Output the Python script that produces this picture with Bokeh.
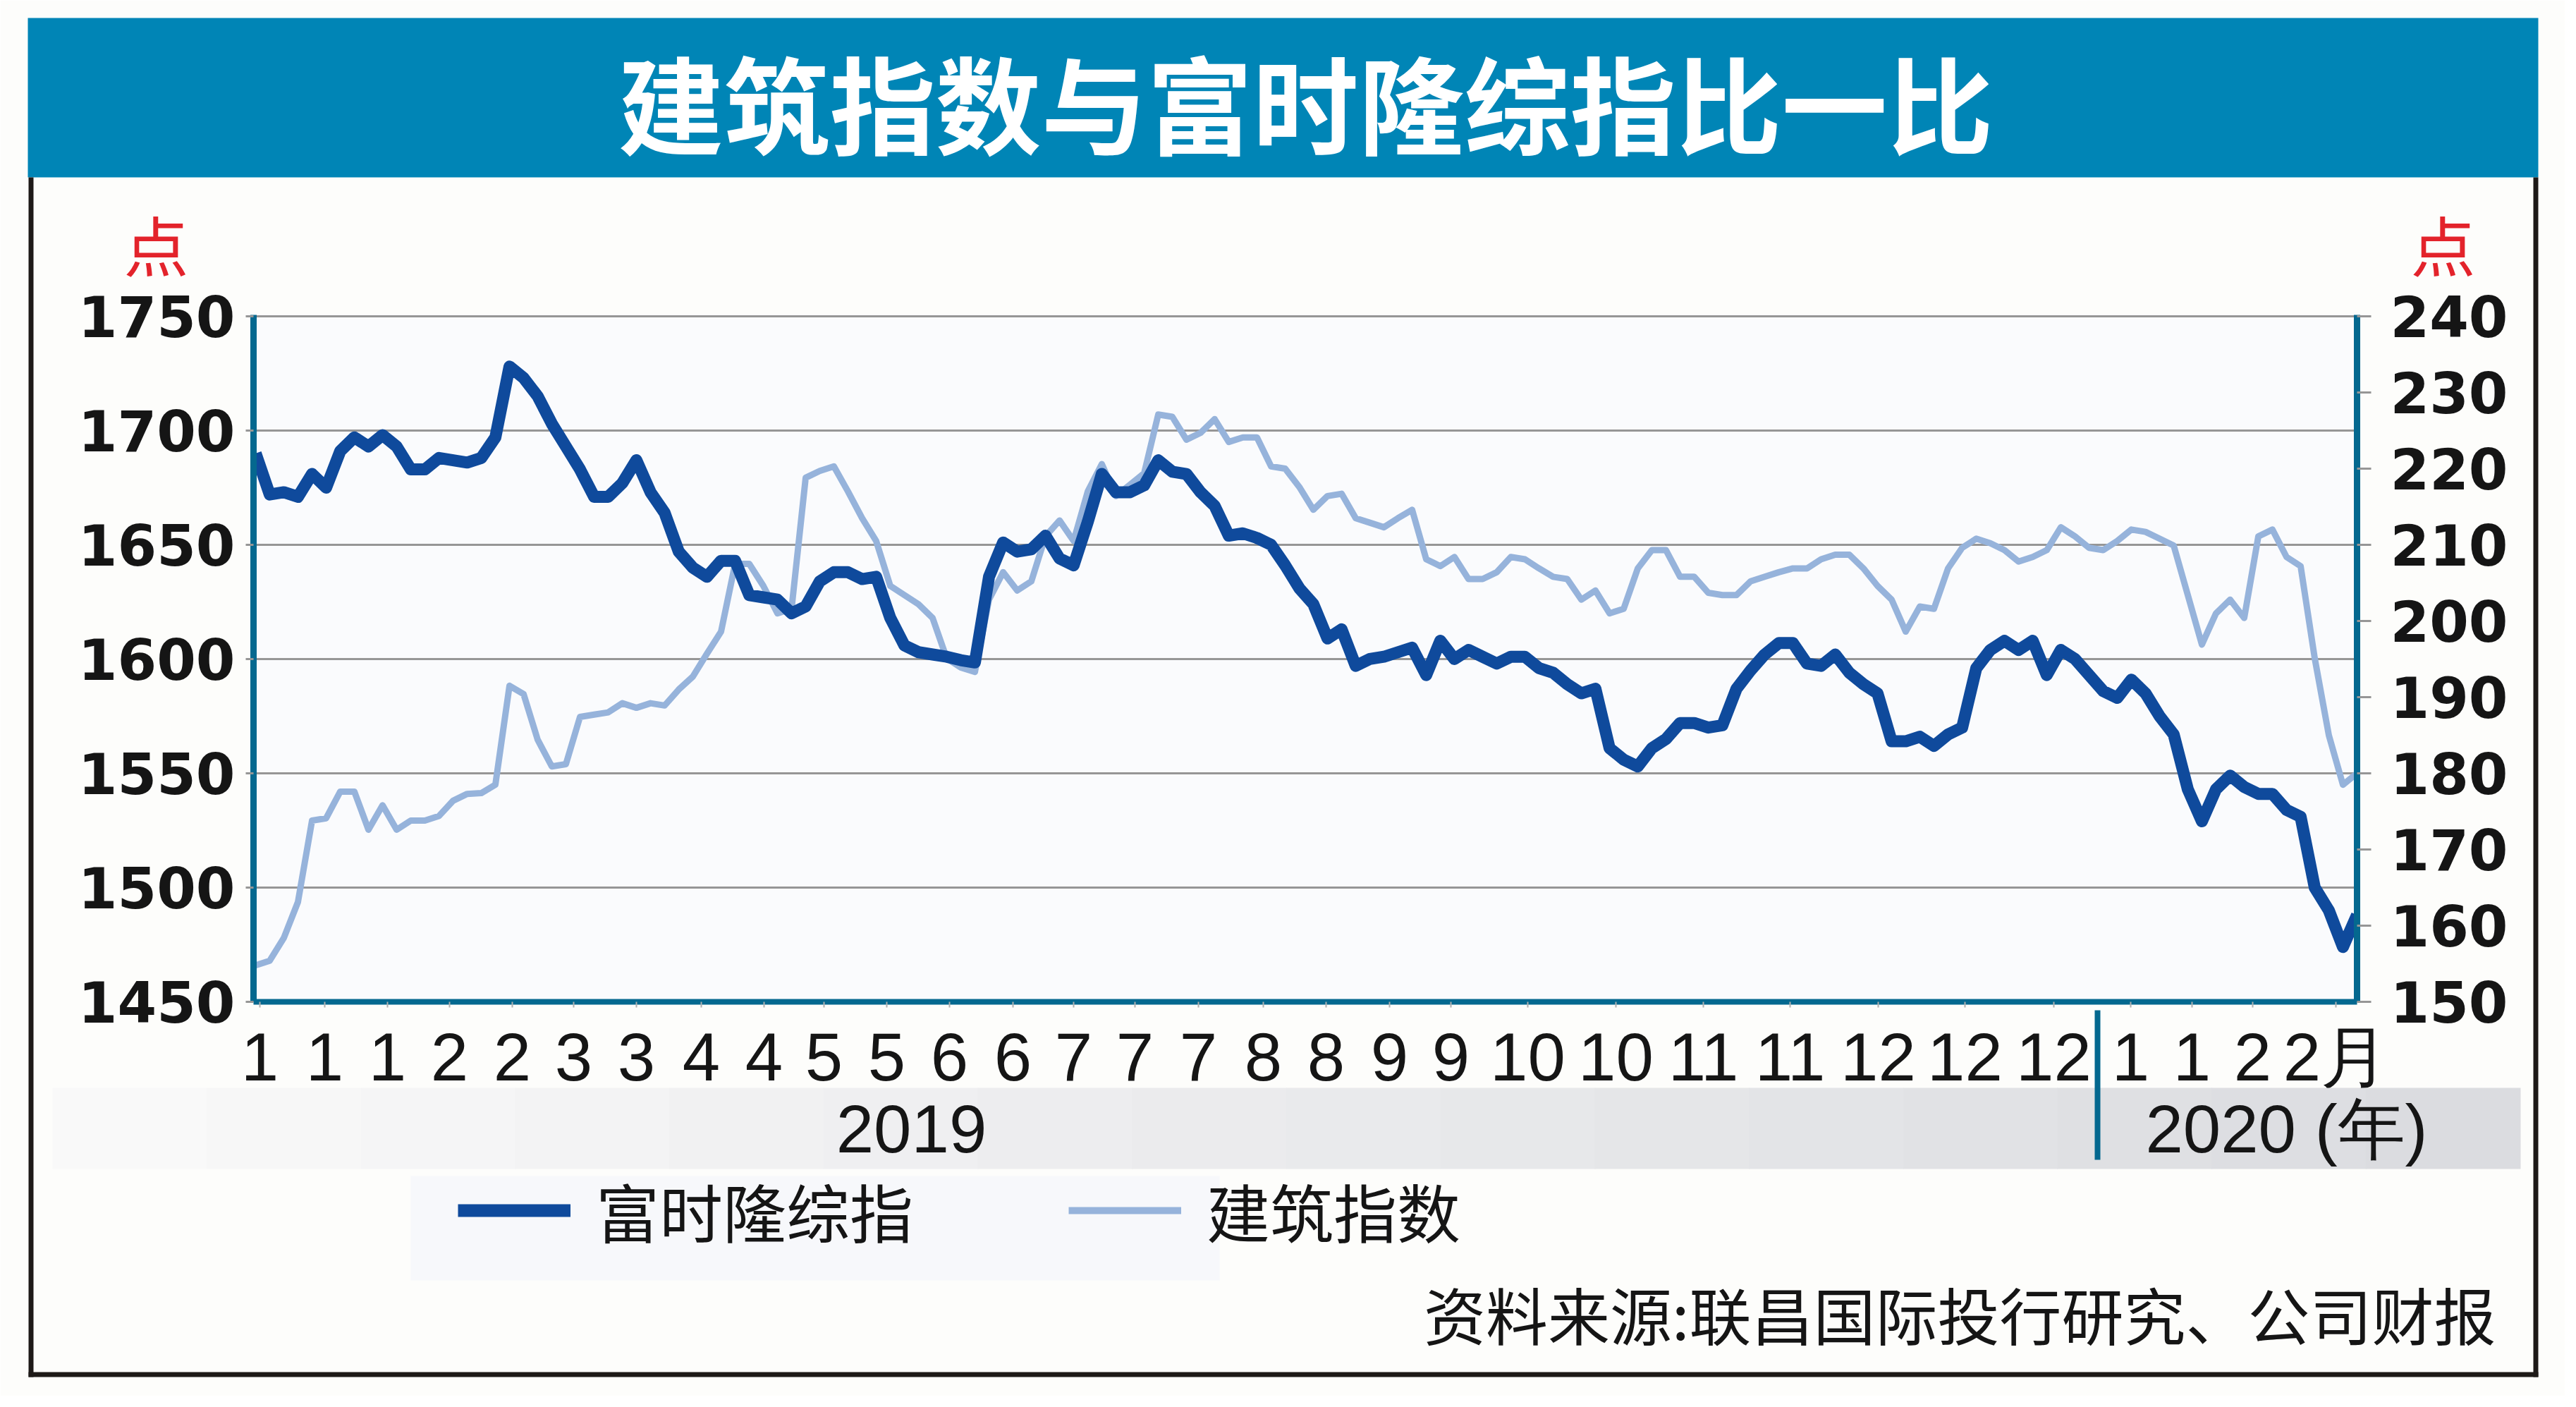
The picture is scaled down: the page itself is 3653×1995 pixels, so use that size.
from bokeh.plotting import figure
from bokeh.models import (Range1d, LinearAxis, FixedTicker, Legend, LegendItem,
                          ColumnDataSource, GridBox)
from bokeh.core.properties import value
from bokeh.embed import file_html
from bokeh.resources import INLINE

# ---------------- data ----------------
klci = [1690, 1672, 1673, 1671, 1681, 1675, 1691, 1697, 1693, 1698, 1693, 1683, 1683,
        1688, 1687, 1686, 1688, 1697, 1728, 1723, 1715, 1703, 1693, 1683, 1671,
        1671, 1677, 1687, 1673, 1664, 1647, 1640, 1636, 1643, 1643, 1628, 1627, 1626,
        1620, 1623, 1634, 1638, 1638, 1635, 1636, 1618, 1606, 1603, 1602, 1601,
        1599.5, 1598.5, 1636, 1651, 1647, 1648, 1654, 1644, 1641, 1660, 1681, 1673, 1673,
        1676, 1687, 1682, 1681, 1673, 1667, 1654, 1655, 1653, 1650, 1641, 1631,
        1624, 1609, 1613, 1597, 1600, 1601, 1603, 1605, 1593, 1608, 1600, 1604, 1601,
        1598, 1601, 1601, 1596, 1594, 1589, 1585, 1587, 1561, 1556, 1553, 1561,
        1565, 1572, 1572, 1570, 1571, 1587, 1595, 1602, 1607, 1607, 1598, 1597, 1602,
        1594, 1589, 1585, 1564, 1564, 1566, 1562, 1567, 1570, 1596, 1604, 1608,
        1604, 1608, 1593, 1604, 1600, 1593, 1586, 1583, 1591, 1585, 1575, 1567, 1543,
        1529, 1543, 1549, 1544, 1541, 1541, 1534, 1531, 1500, 1490, 1474, 1488]

construction = [154.8, 155.4, 158.4, 163.1, 173.8, 174.1, 177.6, 177.6, 172.6, 175.8, 172.6, 173.8, 173.8,
                174.4, 176.4, 177.3, 177.4, 178.5, 191.5, 190.4, 184.4, 180.9, 181.2, 187.4, 187.7,
                188.0, 189.2, 188.6, 189.2, 188.9, 191.0, 192.7, 195.7, 198.6, 207.5, 207.5, 204.6, 201.0,
                201.6, 218.8, 219.7, 220.3, 217.0, 213.5, 210.5, 204.6, 203.4, 202.2, 200.4, 195.1,
                193.9, 193.3, 202.8, 206.4, 204.0, 205.2, 211.1, 213.2, 210.5, 217.0, 220.6, 216.4, 217.9,
                219.4, 227.1, 226.8, 223.8, 224.7, 226.5, 223.5, 224.1, 224.1, 220.3, 220.0, 217.6,
                214.6, 216.4, 216.7, 213.5, 212.9, 212.3, 213.5, 214.6, 208.1, 207.2, 208.4, 205.5, 205.5,
                206.4, 208.4, 208.1, 206.9, 205.8, 205.5, 202.8, 204.0, 201.0, 201.6, 206.9, 209.3,
                209.3, 205.8, 205.8, 203.7, 203.4, 203.4, 205.2, 205.8, 206.4, 206.9, 206.9, 208.1, 208.7,
                208.7, 206.9, 204.6, 202.8, 198.6, 201.9, 201.6, 206.9, 209.6, 210.8, 210.2, 209.3,
                207.8, 208.4, 209.3, 212.3, 211.1, 209.6, 209.3, 210.5, 212.0, 211.7, 210.8, 209.9, 203.4,
                196.9, 201.0, 202.8, 200.4, 211.1, 212.0, 208.4, 207.2, 195.1, 185.0, 178.5, 180.0]

day = list(range(len(klci)))

left_ticks = [1450, 1500, 1550, 1600, 1650, 1700, 1750]
right_ticks = [150, 160, 170, 180, 190, 200, 210, 220, 230, 240]

month_tick_pos = [0.3, 4.9, 9.35, 13.75, 18.2, 22.55, 27.0, 31.6, 36.05, 40.3, 44.75, 49.2,
                  53.7, 58.0, 62.35, 66.85, 71.45, 75.9, 80.4, 84.75, 90.2, 96.45, 102.65,
                  108.8, 115.05, 121.2, 127.5, 132.95, 137.3, 141.6, 147.5]
month_labels = ["1", "1", "1", "2", "2", "3", "3", "4", "4", "5", "5", "6", "6", "7", "7", "7",
                "8", "8", "9", "9", "10", "10", "11", "11", "12", "12", "12", "1", "1", "2", "2月"]

title_text = "建筑指数与富时隆综指比一比"
series_names = ["富时隆综指", "建筑指数"]
unit_text = "点"
year_labels = ["2019", "2020 (年)"]
source_text = "资料来源:联昌国际投行研究、公司财报"

# ---------------- styles ----------------
DARK = "#0f4a9c"
LIGHT = "#96b3db"
AXIS_BLUE = "#04688f"
GRID = "#969696"
NUM_FONT = "DejaVu Sans"
TICK_FONT = "Liberation Sans"
CJK = "Noto Sans CJK SC"
INK = "#151515"
PAGE = "#fdfdfb"

W, H = 3637, 1979

# ======================= chart layer (bottom) =======================
p = figure(width=W, height=H, output_backend="svg", toolbar_location=None,
           x_range=Range1d(-0.15, 149.0), y_range=Range1d(1450, 1750.6),
           min_border_left=359, min_border_right=295, min_border_top=446, min_border_bottom=559,
           background_fill_color="#fafbfd", border_fill_color=PAGE,
           outline_line_color=None)
p.frame_align = False
p.extra_y_ranges = {"right": Range1d(150, 240.18)}

p.xgrid.grid_line_color = None
p.ygrid.ticker = FixedTicker(ticks=left_ticks)
p.ygrid.grid_line_color = GRID
p.ygrid.grid_line_width = 3

ya = p.yaxis[0]
ya.ticker = FixedTicker(ticks=left_ticks)
ya.axis_line_color = AXIS_BLUE
ya.axis_line_width = 9
ya.major_tick_line_color = GRID
ya.major_tick_line_width = 3
ya.major_tick_in = 0
ya.major_tick_out = 11
ya.minor_tick_line_color = None
ya.major_label_text_font = NUM_FONT
ya.major_label_text_font_style = "bold"
ya.major_label_text_font_size = "80px"
ya.major_label_text_color = INK
ya.major_label_standoff = 15

ra = LinearAxis(y_range_name="right", ticker=FixedTicker(ticks=right_ticks))
ra.axis_line_color = AXIS_BLUE
ra.axis_line_width = 9
ra.major_tick_line_color = GRID
ra.major_tick_line_width = 3
ra.major_tick_in = 0
ra.major_tick_out = 20
ra.minor_tick_line_color = None
ra.major_label_text_font = NUM_FONT
ra.major_label_text_font_style = "bold"
ra.major_label_text_font_size = "80px"
ra.major_label_text_color = INK
ra.major_label_standoff = 27
p.add_layout(ra, "right")

xa = p.xaxis[0]
xa.ticker = FixedTicker(ticks=month_tick_pos)
xa.major_label_overrides = {pos: lab for pos, lab in zip(month_tick_pos, month_labels)}
xa.axis_line_color = AXIS_BLUE
xa.axis_line_width = 8
xa.major_tick_line_color = "#b0b0b0"
xa.major_tick_line_width = 2
xa.major_tick_in = 0
xa.major_tick_out = 8
xa.minor_tick_line_color = None
xa.major_label_text_font = TICK_FONT
xa.major_label_text_font_size = "96px"
xa.major_label_text_color = INK
xa.major_label_standoff = 16

src = ColumnDataSource(dict(day=day, klci=klci, construction=construction))
p.line("day", "construction", source=src, y_range_name="right",
       line_color=LIGHT, line_width=9, line_join="round")
p.line("day", "klci", source=src, line_color=DARK, line_width=17, line_join="round")

# ======================= decoration layer (transparent, on top) =======================
deco = figure(width=W, height=H, output_backend="svg", toolbar_location=None,
              x_range=Range1d(0, W), y_range=Range1d(H, 0),
              x_axis_type=None, y_axis_type=None,
              min_border=0, outline_line_color=None,
              background_fill_color=None, border_fill_color=None)
deco.frame_align = False


def box(l, t, r, b, color):
    deco.quad(left=[l], right=[r], top=[t], bottom=[b], fill_color=color, line_color=None)


def text(x, y, s, size, font, color=INK, align="center", style="normal"):
    deco.text(x=[x], y=[y], text=[s], text_font=value(font), text_font_size=value(size),
              text_color=color, text_align=align, text_baseline="middle",
              text_font_style=style)


# title bar
box(39, 25, 3599, 251, "#0085b6")
text(1851, 142, title_text, "150px", CJK, color="white", style="bold")

# outer frame
box(40, 251, 47, 1952, "#1e1a18")
box(3592, 251, 3599, 1952, "#1e1a18")
box(40, 1945, 3599, 1952, "#1e1a18")

# unit labels
text(221, 344, unit_text, "92px", CJK, color="#e3232b")
text(3464, 344, unit_text, "92px", CJK, color="#e3232b")

# year band (soft gradient)
n_strips = 16
x0, x1 = 74, 3573
for i in range(n_strips):
    t = i / (n_strips - 1)
    c0, c1 = (249, 249, 249), (219, 220, 224)
    col = "#%02x%02x%02x" % tuple(int(round(a + (b - a) * t)) for a, b in zip(c0, c1))
    l = x0 + (x1 - x0) * i / n_strips
    r = x0 + (x1 - x0) * (i + 1) / n_strips + 1
    box(l, 1542, r, 1657, col)
box(2970, 1432, 2978, 1644, AXIS_BLUE)
text(1292, 1600, year_labels[0], "96px", TICK_FONT)
text(3242, 1600, year_labels[1], "96px", TICK_FONT)

# legend
box(582, 1667, 1729, 1815, "#f7f8fb")
lg_dark = deco.line(x=[0, 1], y=[-100, -100], line_color=DARK, line_width=18)
lg_light = deco.line(x=[0, 1], y=[-100, -100], line_color=LIGHT, line_width=10)
legend = Legend(items=[LegendItem(label=series_names[0], renderers=[lg_dark]),
                       LegendItem(label=series_names[1], renderers=[lg_light])],
                location=(649, H - 1781), orientation="horizontal",
                glyph_width=160, glyph_height=90, label_height=90, label_standoff=36,
                spacing=220, padding=0, margin=0, border_line_color=None,
                background_fill_alpha=0, label_text_font=CJK, label_text_font_size="90px",
                label_text_color=INK)
deco.add_layout(legend)

# source
text(3539, 1861, source_text, "88px", CJK, align="right")

layout = GridBox(children=[(p, 0, 0), (deco, 0, 0)])

open("out.html", "w").write(file_html(layout, INLINE))
